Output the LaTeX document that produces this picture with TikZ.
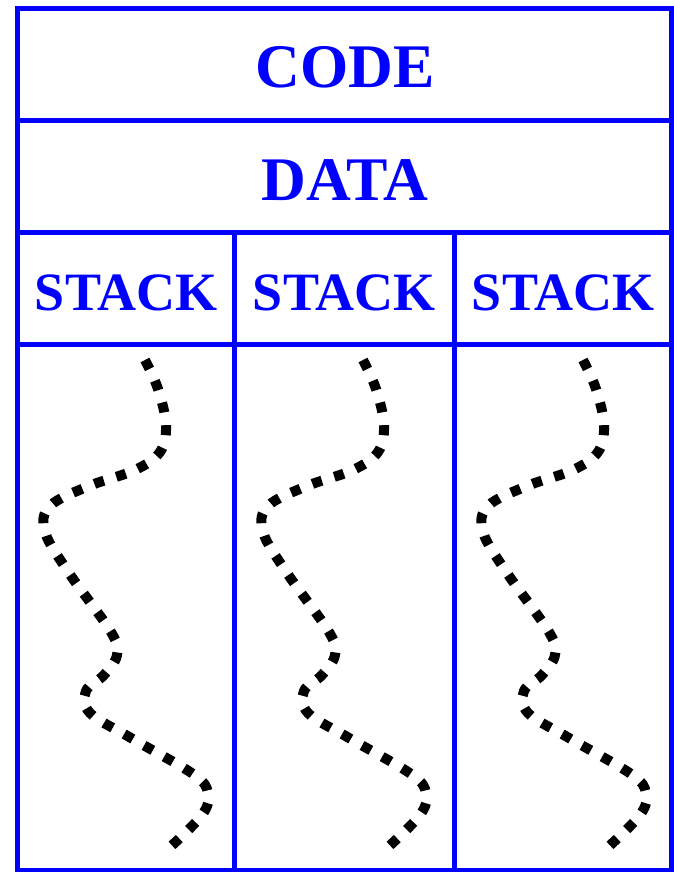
\documentclass[tikz,border=0pt]{standalone}
\usepackage{fontspec}
\setmainfont{Liberation Serif}
\begin{document}
\begin{tikzpicture}[x=1pt,y=-1pt,
  frame/.style={draw=memblue,line width=5pt,line join=miter},
  bigtitle/.style={text=memblue,font=\fontsize{62}{62}\selectfont\bfseries,anchor=base,inner sep=0pt},
  stacktitle/.style={text=memblue,font=\fontsize{54}{54}\selectfont\bfseries,anchor=base,inner sep=0pt},
  squiggle/.style={line width=10pt,dash pattern=on 10pt off 13pt,line cap=butt}]
\definecolor{memblue}{RGB}{0,0,255}
\useasboundingbox (0,0) rectangle (673,872);
\fill[white] (0,0) rectangle (673,872);

% outer frame and dividers
\draw[frame] (17,8.5) rectangle (671,870);
\draw[frame] (17,120.5) -- (671,120.5);
\draw[frame] (17,232.5) -- (671,232.5);
\draw[frame] (17,344.5) -- (671,344.5);
\draw[frame] (234.5,232.5) -- (234.5,870);
\draw[frame] (454,232.5) -- (454,870);

% segment labels
\node[bigtitle] (code) at (345,88) {CODE};
\node[bigtitle] (data) at (345,200) {DATA};
\node[stacktitle] (stackA) at (126,310) {STACK};
\node[stacktitle] (stackB) at (344,310) {STACK};
\node[stacktitle] (stackC) at (563,310) {STACK};

% growing stack regions, one wavy dotted line per thread
\foreach \dx in {0,218,438}{
  \begin{scope}[xshift=\dx pt]
    \draw[squiggle] plot[smooth,tension=0.6] coordinates {
      (145,360) (158,389) (166,425) (160,452) (135,470) (89,486)
      (50,506) (45,532) (69,573) (111,632) (117,655) (104,675)
      (86,691) (90,713) (131,738) (193,774) (208,793) (202,815) (168,849)};
  \end{scope}
}
\end{tikzpicture}
\end{document}
